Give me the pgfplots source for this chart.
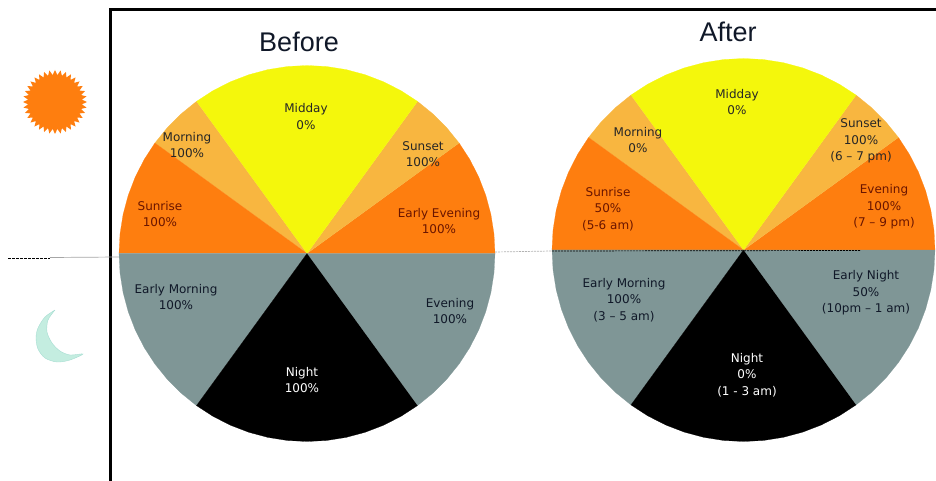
\documentclass[border=0pt]{standalone}
\usepackage{fontspec}
\setmainfont{DejaVu Sans}
\newfontfamily\titlefont{Liberation Sans}
\usepackage{pgfplots}
\pgfplotsset{compat=1.18}
\usepgfplotslibrary{polar}

\definecolor{pieyellow}{HTML}{F4F70C}
\definecolor{pieorange}{HTML}{FE7E0F}
\definecolor{pielight}{HTML}{F8B640}
\definecolor{piegray}{HTML}{7F9696}
\definecolor{moonfill}{HTML}{C4EDE0}
\definecolor{ondark}{HTML}{101828}
\definecolor{onorange}{HTML}{6A1500}

% the same eight slices in both pies: (angle, radius)
\newcommand{\pieslices}{
  \addplot[fill=pieorange,draw=pieorange,line width=0.2pt] coordinates {(0,0) (0,1) (6,1) (12,1) (18,1) (24,1) (30,1) (36,1)};
  \addplot[fill=pielight,draw=pielight,line width=0.2pt] coordinates {(0,0) (36,1) (42,1) (48,1) (54,1)};
  \addplot[fill=pielight,draw=pielight,line width=0.2pt] coordinates {(0,0) (126,1) (132,1) (138,1) (144,1)};
  \addplot[fill=pieorange,draw=pieorange,line width=0.2pt] coordinates {(0,0) (144,1) (150,1) (156,1) (162,1) (168,1) (174,1) (180,1)};
  \addplot[fill=pieyellow,draw=pieyellow,line width=0.2pt] coordinates {(0,0) (54,1) (60,1) (66,1) (72,1) (78,1) (84,1) (90,1) (96,1) (102,1) (108,1) (114,1) (120,1) (126,1)};
  \addplot[fill=piegray,draw=piegray,line width=0.2pt] coordinates {(0,0) (180,1) (186,1) (192,1) (198,1) (204,1) (210,1) (216,1) (222,1) (228,1) (234,1)};
  \addplot[fill=piegray,draw=piegray,line width=0.2pt] coordinates {(0,0) (306,1) (312,1) (318,1) (324,1) (330,1) (336,1) (342,1) (348,1) (354,1) (360,1)};
  \addplot[fill=black,draw=black,line width=0.2pt] coordinates {(0,0) (234,1) (240,1) (246,1) (252,1) (258,1) (264,1) (270,1) (276,1) (282,1) (288,1) (294,1) (300,1) (306,1)};
}

\pgfplotsset{
  pie/.style={hide axis,scale only axis,clip=false,anchor=origin,ymin=0,ymax=1,xmin=0,xmax=360},
}
\tikzset{lab/.style={font=\fontsize{12}{16.5}\selectfont,align=center,inner sep=0pt,anchor=center}}

\begin{document}
\begin{tikzpicture}[x=1pt,y=1pt]
\path[use as bounding box] (0,0) rectangle (936,481);

% Before
\begin{polaraxis}[pie,at={(307pt,227.5pt)},width=376pt,height=376pt]
\pieslices
\end{polaraxis}
% After
\begin{polaraxis}[pie,at={(743.5pt,231pt)},width=383pt,height=383pt]
\pieslices
\end{polaraxis}
% sun
\begin{polaraxis}[pie,at={(55pt,379pt)},width=64pt,height=64pt,ymax=32]
\addplot[fill=pieorange,draw=none] coordinates {
(0,32) (5,27) (10,32) (15,27) (20,32) (25,27) (30,32) (35,27) (40,32) (45,27)
(50,32) (55,27) (60,32) (65,27) (70,32) (75,27) (80,32) (85,27) (90,32) (95,27)
(100,32) (105,27) (110,32) (115,27) (120,32) (125,27) (130,32) (135,27) (140,32) (145,27)
(150,32) (155,27) (160,32) (165,27) (170,32) (175,27) (180,32) (185,27) (190,32) (195,27)
(200,32) (205,27) (210,32) (215,27) (220,32) (225,27) (230,32) (235,27) (240,32) (245,27)
(250,32) (255,27) (260,32) (265,27) (270,32) (275,27) (280,32) (285,27) (290,32) (295,27)
(300,32) (305,27) (310,32) (315,27) (320,32) (325,27) (330,32) (335,27) (340,32) (345,27)
(350,32) (355,27)
} --cycle;
\end{polaraxis}

% page overlay in reference pixels
\begin{axis}[at={(0pt,0pt)},anchor=south west,scale only axis,width=936pt,height=481pt,
  hide axis,clip=false,xmin=0,xmax=936,ymin=0,ymax=481,y dir=reverse]
% frame
\addplot[black,line width=3pt] coordinates {(110.5,481) (110.5,9.5) (936,9.5)};
% horizon
\addplot[black,line width=1pt,dash pattern=on 3pt off 1pt] coordinates {(8,258) (50,258)};
\addplot[gray!70,line width=0.7pt] coordinates {(50,257.5) (119,257)};
\addplot[gray!60,line width=0.7pt,dash pattern=on 2pt off 1pt] coordinates {(495,252) (552,251)};
\addplot[black,line width=0.7pt,dash pattern=on 2pt off 1pt] coordinates {(552,251) (860,250.5)};
% moon
\addplot[fill=moonfill,draw=moonfill!85!teal,line width=0.4pt,smooth] coordinates {
(55,310) (45,317) (38,328) (36,338) (38,349) (45,358) (57,362) (70,360) (83,354)
(70,355) (60,351) (52,343) (47,332) (48,320) (55,310)};
% titles
\node[font=\titlefont\fontsize{27}{30}\selectfont,text=ondark,inner sep=0pt] at (axis cs:299,42) {Before};
\node[font=\titlefont\fontsize{27}{30}\selectfont,text=ondark,inner sep=0pt] at (axis cs:728,32) {After};
% Before labels
\node[lab,text=black!85] at (axis cs:306,116.5) {Midday\\0\%};
\node[lab,text=black!85] at (axis cs:187,145) {Morning\\100\%};
\node[lab,text=black!85] at (axis cs:423,154) {Sunset\\100\%};
\node[lab,text=onorange] at (axis cs:160,214) {Sunrise\\100\%};
\node[lab,text=onorange] at (axis cs:439,221) {Early Evening\\100\%};
\node[lab,text=ondark] at (axis cs:176,297) {Early Morning\\100\%};
\node[lab,text=ondark] at (axis cs:450,311) {Evening\\100\%};
\node[lab,text=white] at (axis cs:302,380) {Night\\100\%};
% After labels
\node[lab,text=black!85] at (axis cs:737,102) {Midday\\0\%};
\node[lab,text=black!85] at (axis cs:638,140) {Morning\\0\%};
\node[lab,text=black!85] at (axis cs:861,141) {Sunset\\100\%\\(6 -- 7 pm)};
\node[lab,text=onorange] at (axis cs:608,209) {Sunrise\\50\%\\(5-6 am)};
\node[lab,text=onorange] at (axis cs:884,207) {Evening\\100\%\\(7 -- 9 pm)};
\node[lab,text=ondark] at (axis cs:624,300) {Early Morning\\100\%\\(3 -- 5 am)};
\node[lab,text=ondark] at (axis cs:866,293) {Early Night\\50\%\\(10pm -- 1 am)};
\node[lab,text=white] at (axis cs:747,375) {Night\\0\%\\(1 - 3 am)};
\end{axis}
\end{tikzpicture}
\end{document}
